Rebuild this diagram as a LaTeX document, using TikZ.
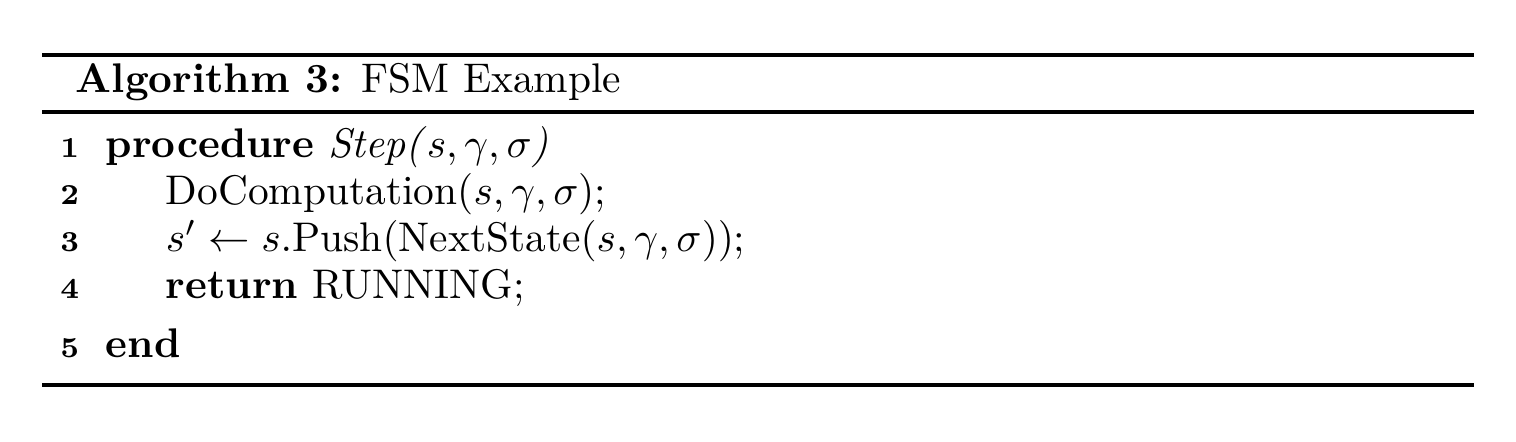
\documentclass[tikz,border=0pt]{standalone}
\usepackage{amsmath}
\begin{document}
\begin{tikzpicture}[x=0.2415pt,y=-0.2415pt,
  rulel/.style={line width=0.75pt},
  txt/.style={anchor=base west,inner sep=0pt,font=\normalsize},
  lno/.style={anchor=base east,inner sep=0pt,font=\scriptsize\bfseries}]
\useasboundingbox (0,0) rectangle (1516,442);
\coordinate (tl) at (42,55);
\coordinate (tr) at (1474,55);
\coordinate (ml) at (42,112);
\coordinate (mr) at (1474,112);
\coordinate (bl) at (42,385);
\coordinate (br) at (1474,385);
\draw[rulel] (tl) -- (tr);
\draw[rulel] (ml) -- (mr);
\draw[rulel] (bl) -- (br);
\node[txt] (title) at (75,93) {\textbf{Algorithm 3:} FSM Example};
\node[lno] (n1) at (80,158) {1};
\node[lno] (n2) at (80,205) {2};
\node[lno] (n3) at (80,252) {3};
\node[lno] (n4) at (80,299) {4};
\node[lno] (n5) at (80,358) {5};
\node[txt] (l1) at (105,158) {\textbf{procedure} \textit{Step(}$s,\gamma,\sigma$\textit{)}};
\node[txt] (l2) at (165,205) {DoComputation($s,\gamma,\sigma$);};
\node[txt] (l3) at (165,252) {$s'\leftarrow s.\text{Push}(\text{NextState}(s,\gamma,\sigma))$;};
\node[txt] (l4) at (165,299) {\textbf{return} RUNNING;};
\node[txt] (l5) at (105,358) {\textbf{end}};
\end{tikzpicture}
\end{document}
